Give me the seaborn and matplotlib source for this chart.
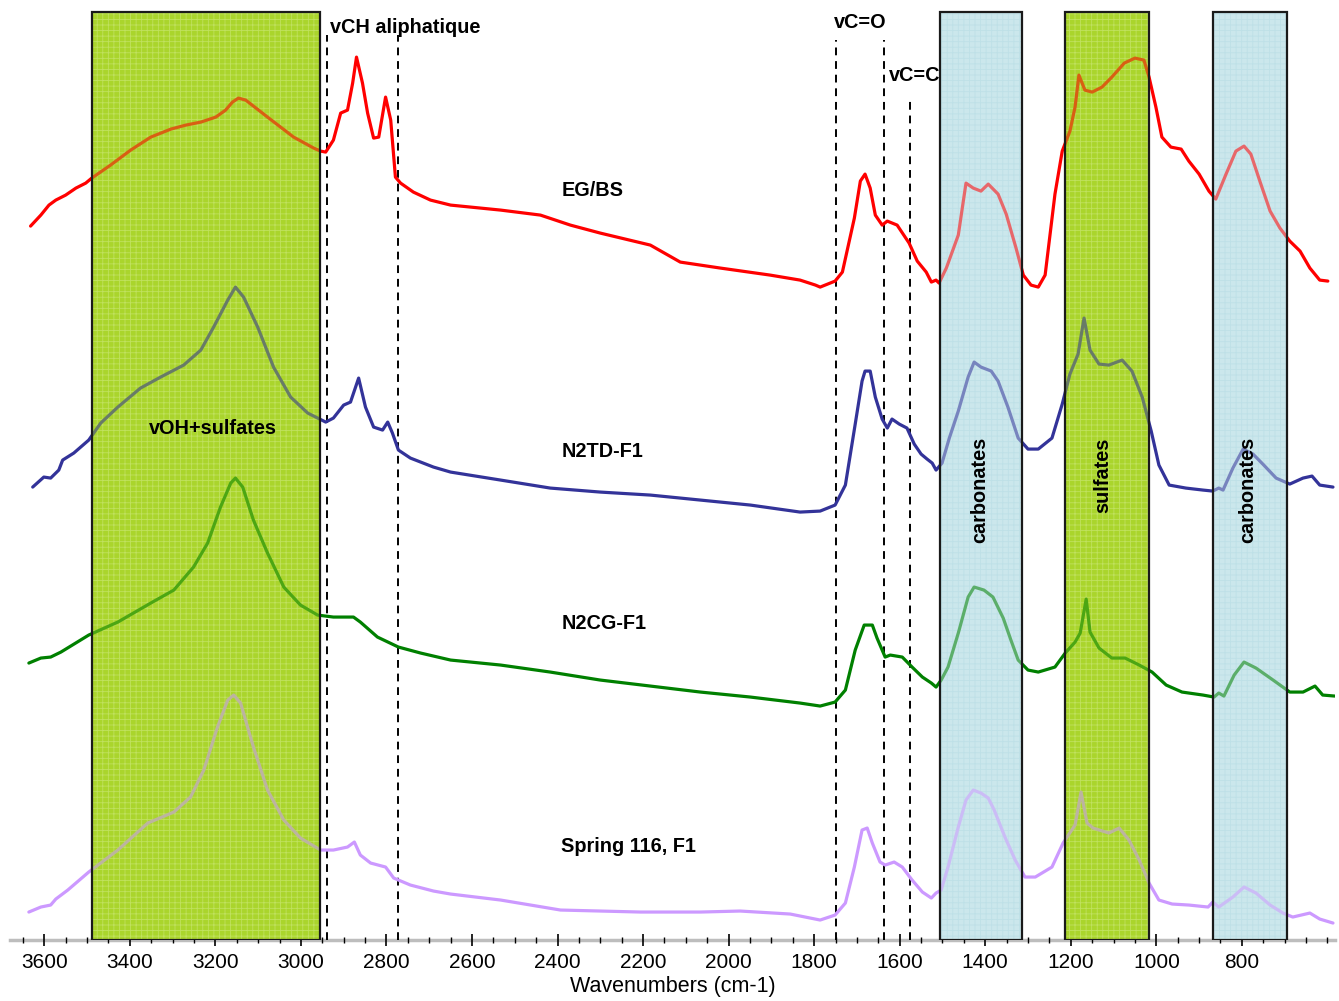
import matplotlib
matplotlib.use("Agg")
import matplotlib.pyplot as plt
import seaborn as sns
import pandas as pd
from matplotlib.ticker import MultipleLocator, FixedLocator

# spectra (wavenumber cm-1, offset absorbance)
egbs_wn = [3632, 3608, 3589, 3573, 3550, 3526, 3503, 3489, 3445, 3398, 3351, 3304, 3269, 3234, 3199, 3176,
           3160, 3146, 3129, 3078, 3017, 2970, 2954, 2942, 2924, 2907, 2891, 2879, 2870, 2856, 2844, 2830,
           2818, 2802, 2790, 2779, 2767, 2737, 2697, 2650, 2533, 2440, 2370, 2300, 2183, 2113, 2019, 1903,
           1833, 1797, 1786, 1751, 1734, 1706, 1692, 1681, 1669, 1657, 1641, 1629, 1606, 1578, 1559, 1538,
           1526, 1515, 1508, 1491, 1463, 1445, 1428, 1410, 1393, 1370, 1351, 1328, 1311, 1293, 1276, 1260,
           1237, 1220, 1202, 1190, 1181, 1167, 1150, 1127, 1104, 1075, 1050, 1029, 1017, 1001, 987, 966,
           942, 924, 900, 877, 861, 837, 814, 795, 779, 758, 734, 711, 688, 664, 641, 618, 599]
egbs_abs = [7.14, 7.25, 7.35, 7.40, 7.45, 7.52, 7.57, 7.62, 7.75, 7.90, 8.03, 8.11, 8.15, 8.18, 8.23, 8.30,
            8.38, 8.42, 8.40, 8.23, 8.03, 7.92, 7.89, 7.88, 8.00, 8.27, 8.30, 8.57, 8.83, 8.57, 8.27, 8.02,
            8.03, 8.43, 8.20, 7.63, 7.57, 7.48, 7.40, 7.35, 7.30, 7.25, 7.15, 7.07, 6.95, 6.78, 6.72, 6.65,
            6.60, 6.55, 6.53, 6.59, 6.68, 7.22, 7.59, 7.66, 7.52, 7.25, 7.15, 7.19, 7.15, 6.97, 6.79, 6.68,
            6.58, 6.60, 6.57, 6.72, 7.05, 7.57, 7.52, 7.49, 7.56, 7.46, 7.26, 6.92, 6.65, 6.55, 6.53, 6.65,
            7.46, 7.89, 8.09, 8.33, 8.65, 8.50, 8.48, 8.53, 8.63, 8.77, 8.82, 8.80, 8.63, 8.33, 8.03, 7.93,
            7.91, 7.79, 7.66, 7.49, 7.41, 7.66, 7.89, 7.94, 7.86, 7.59, 7.29, 7.12, 6.99, 6.89, 6.72, 6.60, 6.59]

n2td_wn = [3627, 3601, 3585, 3566, 3557, 3531, 3496, 3468, 3428, 3375, 3328, 3274, 3234, 3204, 3171, 3153,
           3134, 3101, 3064, 3024, 2984, 2942, 2924, 2900, 2884, 2865, 2849, 2830, 2809, 2797, 2786, 2772,
           2744, 2690, 2650, 2533, 2417, 2300, 2183, 2066, 1949, 1833, 1786, 1751, 1727, 1704, 1688, 1681,
           1669, 1657, 1641, 1629, 1618, 1601, 1583, 1566, 1550, 1536, 1524, 1515, 1501, 1484, 1463, 1440,
           1426, 1410, 1386, 1370, 1347, 1323, 1300, 1276, 1244, 1220, 1202, 1183, 1169, 1155, 1134, 1111,
           1080, 1057, 1033, 1012, 994, 970, 931, 891, 868, 854, 844, 821, 797, 774, 751, 720, 688, 657,
           636, 618, 587]
n2td_abs = [4.53, 4.63, 4.62, 4.70, 4.80, 4.87, 5.00, 5.17, 5.33, 5.52, 5.63, 5.75, 5.90, 6.13, 6.40, 6.53,
            6.43, 6.13, 5.73, 5.43, 5.27, 5.18, 5.22, 5.35, 5.38, 5.62, 5.33, 5.13, 5.10, 5.18, 5.07, 4.90,
            4.82, 4.73, 4.68, 4.60, 4.52, 4.48, 4.45, 4.40, 4.35, 4.28, 4.29, 4.35, 4.55, 5.16, 5.59, 5.69,
            5.69, 5.43, 5.21, 5.12, 5.21, 5.16, 5.12, 4.96, 4.86, 4.81, 4.77, 4.70, 4.77, 5.02, 5.29, 5.63,
            5.78, 5.73, 5.69, 5.59, 5.33, 5.02, 4.91, 4.91, 5.02, 5.36, 5.66, 5.86, 6.22, 5.90, 5.76, 5.75,
            5.80, 5.69, 5.43, 5.09, 4.75, 4.55, 4.52, 4.50, 4.49, 4.52, 4.50, 4.72, 4.91, 4.86, 4.76, 4.62,
            4.56, 4.62, 4.64, 4.55, 4.53]

n2cg_wn = [3636, 3608, 3585, 3561, 3496, 3428, 3351, 3297, 3251, 3218, 3188, 3164, 3153, 3136, 3111, 3078,
           3040, 3001, 2961, 2924, 2877, 2861, 2821, 2772, 2720, 2650, 2533, 2417, 2300, 2183, 2066, 1949,
           1833, 1786, 1751, 1727, 1704, 1683, 1664, 1653, 1634, 1622, 1594, 1571, 1547, 1526, 1515, 1503,
           1487, 1463, 1440, 1426, 1403, 1382, 1358, 1340, 1323, 1300, 1276, 1237, 1213, 1190, 1178, 1164,
           1155, 1134, 1104, 1073, 1040, 1010, 977, 940, 891, 865, 854, 842, 818, 795, 767, 727, 688, 657,
           629, 611, 583]
n2cg_abs = [2.77, 2.82, 2.83, 2.88, 3.05, 3.18, 3.37, 3.50, 3.73, 3.97, 4.33, 4.57, 4.62, 4.53, 4.20, 3.87,
            3.53, 3.35, 3.25, 3.23, 3.23, 3.18, 3.03, 2.93, 2.87, 2.80, 2.75, 2.68, 2.60, 2.54, 2.48, 2.43,
            2.37, 2.34, 2.38, 2.50, 2.90, 3.15, 3.15, 3.02, 2.83, 2.85, 2.83, 2.73, 2.63, 2.57, 2.53, 2.60,
            2.73, 3.07, 3.43, 3.53, 3.50, 3.43, 3.22, 3.00, 2.80, 2.70, 2.68, 2.73, 2.87, 2.98, 3.07, 3.41,
            3.08, 2.92, 2.82, 2.82, 2.75, 2.68, 2.55, 2.48, 2.45, 2.43, 2.47, 2.44, 2.65, 2.78, 2.72, 2.60,
            2.48, 2.48, 2.54, 2.45, 2.44]

spring_wn = [3636, 3608, 3585, 3573, 3545, 3496, 3428, 3358, 3297, 3258, 3227, 3195, 3171, 3157, 3141, 3111,
             3078, 3040, 3001, 2954, 2924, 2891, 2875, 2861, 2837, 2802, 2783, 2744, 2690, 2650, 2533, 2393,
             2206, 2066, 1973, 1856, 1786, 1751, 1727, 1706, 1688, 1676, 1664, 1646, 1634, 1613, 1594, 1571,
             1547, 1526, 1515, 1503, 1487, 1463, 1445, 1428, 1410, 1393, 1379, 1354, 1330, 1307, 1283, 1244,
             1218, 1190, 1176, 1162, 1148, 1111, 1087, 1064, 1040, 1017, 994, 963, 924, 879, 868, 854, 821,
             795, 767, 734, 704, 681, 641, 618, 587]
spring_abs = [0.28, 0.33, 0.35, 0.41, 0.50, 0.68, 0.90, 1.17, 1.28, 1.43, 1.70, 2.13, 2.40, 2.45, 2.37, 1.93,
              1.50, 1.20, 1.02, 0.90, 0.90, 0.93, 0.98, 0.85, 0.77, 0.73, 0.62, 0.55, 0.49, 0.46, 0.40, 0.30,
              0.28, 0.28, 0.29, 0.26, 0.20, 0.25, 0.37, 0.73, 1.10, 1.12, 0.97, 0.78, 0.75, 0.78, 0.73, 0.60,
              0.48, 0.42, 0.47, 0.50, 0.73, 1.13, 1.40, 1.50, 1.47, 1.42, 1.30, 1.03, 0.80, 0.63, 0.63, 0.73,
              0.97, 1.15, 1.48, 1.17, 1.12, 1.07, 1.12, 1.00, 0.80, 0.57, 0.40, 0.36, 0.35, 0.33, 0.38, 0.33,
              0.43, 0.53, 0.47, 0.35, 0.27, 0.23, 0.27, 0.21, 0.17]

series_names = ['EG/BS', 'N2TD-F1', 'N2CG-F1', 'Spring 116, F1']
series_colors = ['#ff0000', '#333399', '#008000', '#cc99ff']
label_pos = [7.50, 4.89, 3.17, 0.94]

# shaded bands (from, to) and their labels
bands = [(3489, 2956), (1505, 1314), (1213, 1017), (868, 695)]
band_kind = ['green', 'blue', 'green', 'blue']
band_text = ['vOH+sulfates', 'carbonates', 'sulfates', 'carbonates']

# dashed marker lines
marker_wn = [2940, 2772, 1748, 1636, 1575]
marker_top = [9.05, 9.05, 9.0, 9.0, 8.4]

tick_labels = list(range(3600, 799, -200))

sns.set_theme(style='white')
plt.rcParams['font.family'] = ['Liberation Sans', 'DejaVu Sans']
plt.rcParams['text.color'] = 'black'
plt.rcParams['axes.labelcolor'] = 'black'
plt.rcParams['xtick.color'] = 'black'
plt.rcParams['hatch.linewidth'] = 0.6

fig = plt.figure(figsize=(13.39, 10.01), dpi=100)
ax = fig.add_axes([0.0075, 0.0609, 0.9896, 0.931])

curves = [(egbs_wn, egbs_abs), (n2td_wn, n2td_abs), (n2cg_wn, n2cg_abs), (spring_wn, spring_abs)]
for (wn, ab), name, col in zip(curves, series_names, series_colors):
    df = pd.DataFrame({'wn': wn, 'abs': ab})
    sns.lineplot(data=df, x='wn', y='abs', sort=False, estimator=None, color=col,
                 linewidth=2.3, ax=ax, zorder=3, solid_joinstyle='round', solid_capstyle='round')

fills = {'green': ('#aad52c', '#d3ec8a'), 'blue': ('#cbe7ec', '#b4dbe3')}
span_top = 0.9957
for (a, b), kind in zip(bands, band_kind):
    face, hat = fills[kind]
    ax.axvspan(b, a, ymin=0, ymax=span_top, facecolor=face, edgecolor=hat, hatch='+++',
               linewidth=0, zorder=1)
    # translucent layer above the spectra so they look washed out
    ax.axvspan(b, a, ymin=0, ymax=span_top, facecolor=face, alpha=0.45, linewidth=0, zorder=4)
    ax.axvspan(b, a, ymin=0, ymax=span_top, facecolor='none', edgecolor='#1a1a1a',
               linewidth=1.6, zorder=5)

for x, top in zip(marker_wn, marker_top):
    ax.vlines(x, 0, top, colors='black', linestyles=(0, (4, 3)), linewidth=1.4, zorder=2)

# annotations
fs = 14.3
ax.text(2931, 9.13, 'vCH aliphatique', fontsize=fs, fontweight='bold', ha='left', va='center', zorder=6)
ax.text(1692, 9.18, 'vC=O', fontsize=fs, fontweight='bold', ha='center', va='center', zorder=6)
ax.text(1566, 8.65, 'vC=C', fontsize=fs, fontweight='bold', ha='center', va='center', zorder=6)
for name, y in zip(series_names, label_pos):
    ax.text(2391, y, name, fontsize=fs, fontweight='bold', ha='left', va='center', zorder=6)

band_text_pos = [(3206, 5.12, 0), (1412, 4.50, 90), (1124, 4.65, 90), (786, 4.50, 90)]
for txt, (x, y, rot) in zip(band_text, band_text_pos):
    ax.text(x, y, txt, fontsize=fs, fontweight='bold', ha='center', va='center', rotation=rot, zorder=6)

ax.set_xlim(3680, 582)
ax.set_ylim(0, 9.32)
ax.set_yticks([])
ax.set_ylabel('')
ax.set_xlabel('Wavenumbers (cm-1)', fontsize=15.5, labelpad=3)
ax.xaxis.set_major_locator(FixedLocator(tick_labels))
ax.xaxis.set_minor_locator(MultipleLocator(50))
ax.tick_params(axis='x', which='major', direction='inout', length=9, width=1.2,
               color='black', labelsize=15, pad=5, bottom=True)
ax.tick_params(axis='x', which='minor', direction='inout', length=5, width=1.0,
               color='black', bottom=True)
for side in ['top', 'left', 'right']:
    ax.spines[side].set_visible(False)
ax.spines['bottom'].set_color('#bdbdbd')
ax.spines['bottom'].set_linewidth(2.5)
ax.spines['bottom'].set_zorder(0)

fig.savefig('out.png', dpi=100)
